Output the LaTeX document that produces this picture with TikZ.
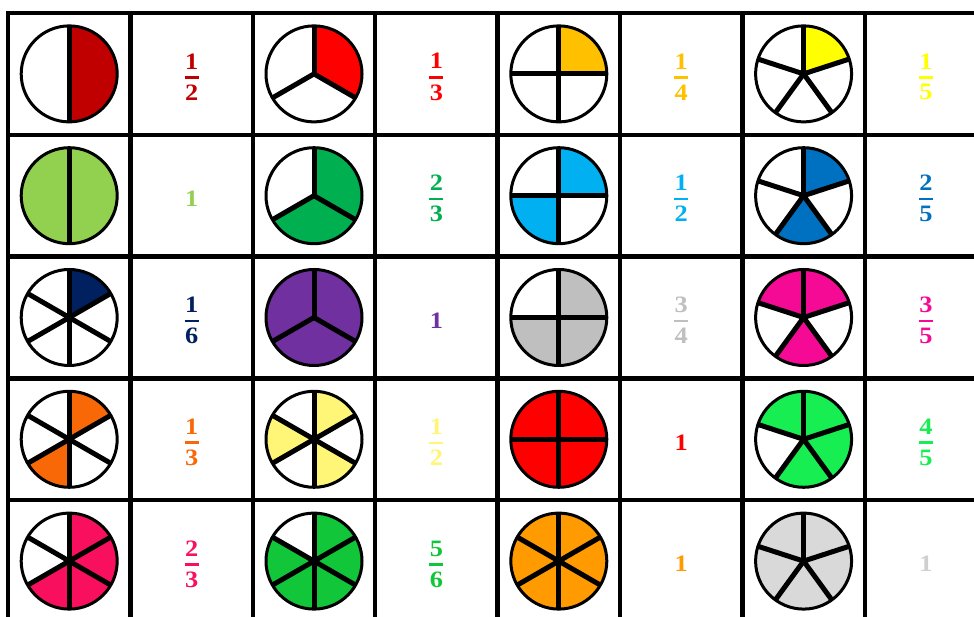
\documentclass[tikz,border=0pt]{standalone}
\usepackage{fontspec}
\setmainfont{Liberation Serif}[FakeStretch=1.12]
\definecolor{cDarkRed}{HTML}{C00000}
\definecolor{cRed}{HTML}{FF0000}
\definecolor{cGold}{HTML}{FFC000}
\definecolor{cYellow}{HTML}{FFFF00}
\definecolor{cLightGreen}{HTML}{92D050}
\definecolor{cGreen}{HTML}{00B050}
\definecolor{cLightBlue}{HTML}{00B0F0}
\definecolor{cBlue}{HTML}{0070C0}
\definecolor{cNavy}{HTML}{002060}
\definecolor{cPurple}{HTML}{7030A0}
\definecolor{cGray}{HTML}{BFBFBF}
\definecolor{cMagenta}{HTML}{F50A96}
\definecolor{cOrange}{HTML}{F96807}
\definecolor{cPaleYellow}{HTML}{FFF577}
\definecolor{cBrightGreen}{HTML}{16EE52}
\definecolor{cPink}{HTML}{F8105F}
\definecolor{cMidGreen}{HTML}{12C63A}
\definecolor{cAmber}{HTML}{FF9A00}
\definecolor{cLightGray}{HTML}{D9D9D9}
\definecolor{cTextGray}{HTML}{CFCFCF}
\newcommand\fracstack[2]{\vbox{\offinterlineskip\halign{\hfil##\hfil\cr #1\cr\noalign{\kern7pt}\rule{14pt}{2.5pt}\cr\noalign{\kern6pt}#2\cr}}}
\newcommand\piechart[4]{%
  \foreach \k in {#3}{\fill[#4] (#1) -- ++({90-360/#2*\k}:48) arc[start angle={90-360/#2*\k}, delta angle={-360/#2}, radius=48] -- cycle;}
  \foreach \k in {1,...,#2}{\draw[divider] (#1) -- ++({90-360/#2*\k}:48);}
  \draw[rim] (#1) circle[radius=48];
}
\tikzset{
  gridline/.style={line width=4.5pt, black, line cap=rect},
  divider/.style={line width=5pt, black},
  rim/.style={line width=3pt, black},
  lab/.style={font=\fontsize{23.5}{24}\selectfont\bfseries, inner sep=0pt}
}
\begin{document}
\begin{tikzpicture}[x=1pt,y=1pt]
\useasboundingbox (0,0) rectangle (974,617);
\clip (0,0) rectangle (974,617);
\fill[white] (0,0) rectangle (974,617);
% cell centres
\foreach \r in {0,...,4}{\foreach \c in {0,...,7}{\coordinate (C\r\c) at ({69.2+122.4*\c},{543.1-121.8*\r});}}
% row 0
\piechart{C00}{2}{0}{cDarkRed}
\piechart{C02}{3}{0}{cRed}
\piechart{C04}{4}{0}{cGold}
\piechart{C06}{5}{0}{cYellow}
\node[lab, text=cDarkRed] (L01) at ([yshift=-3pt]C01) {\fracstack{1}{2}};
\node[lab, text=cRed] (L03) at ([yshift=-3pt]C03) {\fracstack{1}{3}};
\node[lab, text=cGold] (L05) at ([yshift=-3pt]C05) {\fracstack{1}{4}};
\node[lab, text=cYellow] (L07) at ([yshift=-3pt]C07) {\fracstack{1}{5}};
% row 1
\piechart{C10}{2}{0,1}{cLightGreen}
\piechart{C12}{3}{0,1}{cGreen}
\piechart{C14}{4}{0,2}{cLightBlue}
\piechart{C16}{5}{0,2}{cBlue}
\node[lab, text=cLightGreen] (L11) at ([yshift=-3pt]C11) {1};
\node[lab, text=cGreen] (L13) at ([yshift=-3pt]C13) {\fracstack{2}{3}};
\node[lab, text=cLightBlue] (L15) at ([yshift=-3pt]C15) {\fracstack{1}{2}};
\node[lab, text=cBlue] (L17) at ([yshift=-3pt]C17) {\fracstack{2}{5}};
% row 2
\piechart{C20}{6}{0}{cNavy}
\piechart{C22}{3}{0,1,2}{cPurple}
\piechart{C24}{4}{0,1,2}{cGray}
\piechart{C26}{5}{0,2,4}{cMagenta}
\node[lab, text=cNavy] (L21) at ([yshift=-3pt]C21) {\fracstack{1}{6}};
\node[lab, text=cPurple] (L23) at ([yshift=-3pt]C23) {1};
\node[lab, text=cGray] (L25) at ([yshift=-3pt]C25) {\fracstack{3}{4}};
\node[lab, text=cMagenta] (L27) at ([yshift=-3pt]C27) {\fracstack{3}{5}};
% row 3
\piechart{C30}{6}{0,3}{cOrange}
\piechart{C32}{6}{0,2,4}{cPaleYellow}
\piechart{C34}{4}{0,1,2,3}{cRed}
\piechart{C36}{5}{0,1,2,4}{cBrightGreen}
\node[lab, text=cOrange] (L31) at ([yshift=-3pt]C31) {\fracstack{1}{3}};
\node[lab, text=cPaleYellow] (L33) at ([yshift=-3pt]C33) {\fracstack{1}{2}};
\node[lab, text=cRed] (L35) at ([yshift=-3pt]C35) {1};
\node[lab, text=cBrightGreen] (L37) at ([yshift=-3pt]C37) {\fracstack{4}{5}};
% row 4
\piechart{C40}{6}{0,1,2,3}{cPink}
\piechart{C42}{6}{0,1,2,3,4}{cMidGreen}
\piechart{C44}{6}{0,1,2,3,4,5}{cAmber}
\piechart{C46}{5}{0,1,2,3,4}{cLightGray}
\node[lab, text=cPink] (L41) at ([yshift=-3pt]C41) {\fracstack{2}{3}};
\node[lab, text=cMidGreen] (L43) at ([yshift=-3pt]C43) {\fracstack{5}{6}};
\node[lab, text=cAmber] (L45) at ([yshift=-3pt]C45) {1};
\node[lab, text=cTextGray] (L47) at ([yshift=-3pt]C47) {1};
% grid
\foreach \k in {0,...,7}{\draw[gridline] ({8+122.4*\k},604) -- ({8+122.4*\k},-10);}
\foreach \j in {0,...,4}{\draw[gridline] (8,{604-121.8*\j}) -- (990,{604-121.8*\j});}
\end{tikzpicture}
\end{document}
